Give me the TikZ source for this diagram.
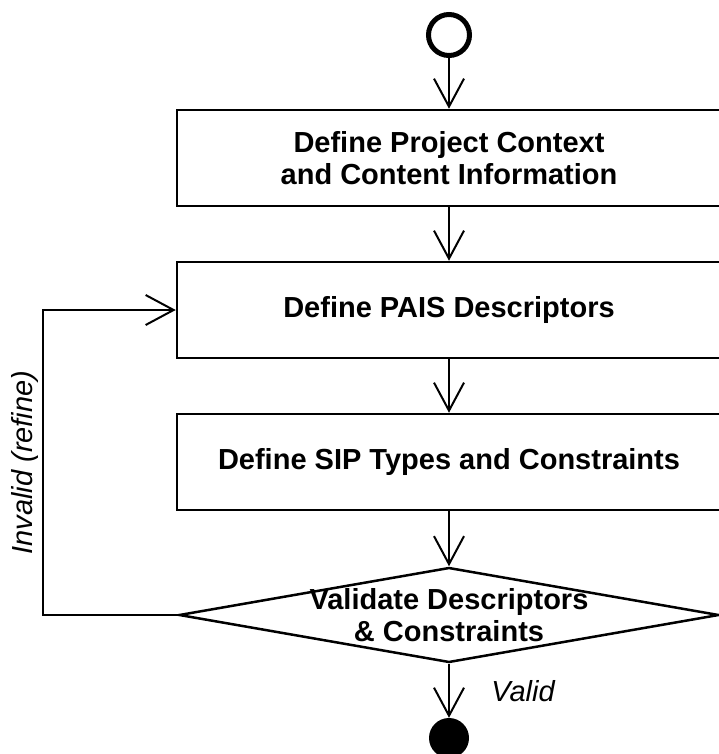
\documentclass[tikz,border=0pt]{standalone}
\usepackage{fontspec}
\setmainfont{Liberation Sans}
\usepackage{tikz}
\usetikzlibrary{shapes.geometric}
\usetikzlibrary{arrows.meta}
\tikzset{actbox/.style={draw, line width=2.5pt, rectangle, minimum width=544pt, minimum height=96pt, align=center, font=\fontsize{29}{32}\selectfont\bfseries}}
\tikzset{decision/.style={draw, line width=2.5pt, diamond, minimum width=540pt, minimum height=95pt, inner sep=0pt}}
\tikzstyle{flow} = [line width=2pt, -{Straight Barb[length=28pt, width=30pt, line width=2pt]}]
\tikzstyle{guard} = [font=\fontsize{29}{32}\selectfont\itshape]

\begin{document}
\begin{tikzpicture}[x=1pt, y=-1pt]
\useasboundingbox (0,0) rectangle (719,754);

\node[draw, circle, line width=5pt, minimum size=41pt, inner sep=0pt] (start) at (449,35) {};
\node[actbox] (context) at (449,158) {Define Project Context\\and Content Information};
\node[actbox] (pais) at (449,310) {Define PAIS Descriptors};
\node[actbox] (sip) at (449,462) {Define SIP Types and Constraints};
\node[decision, label={[align=center, font=\fontsize{29}{32}\selectfont\bfseries]center:Validate Descriptors\\\& Constraints}] (check) at (449,615) {};
\node[circle, fill=black, minimum size=40pt, inner sep=0pt] (stop) at (449,738) {};
\coordinate (bend) at (43,615);

\draw[flow] (start) -- (context);
\draw[flow] (context) -- (pais);
\draw[flow] (pais) -- (sip);
\draw[flow] (sip) -- (check);
\draw[flow] (check.south) -- node[guard, right=38pt] {Valid} (stop);
\draw[flow] (check.west) -- (bend) |- node[guard, pos=0.25, sloped, above] {Invalid (refine)} (pais.west);
\end{tikzpicture}
\end{document}
